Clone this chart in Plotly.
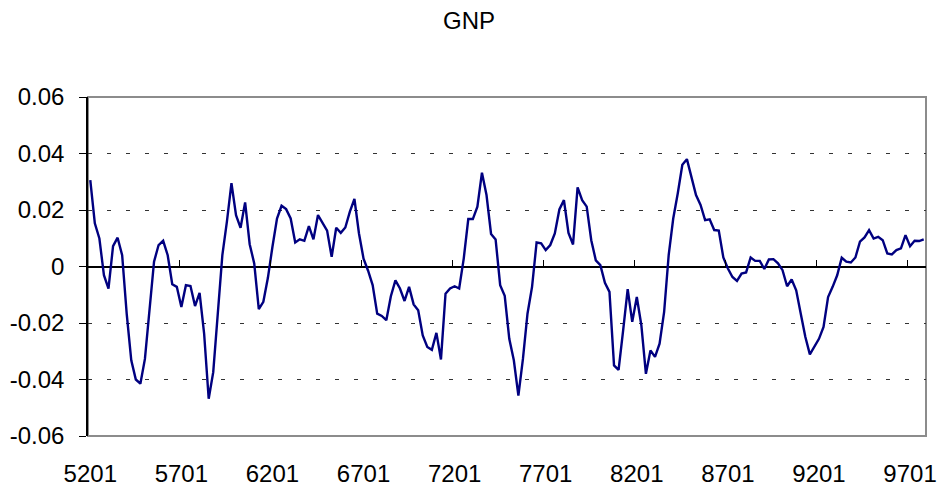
import plotly.graph_objects as go

title = "GNP"
tick_labels = ["5201", "5701", "6201", "6701", "7201", "7701", "8201", "8701", "9201", "9701"]
y_tick_vals = [0.06, 0.04, 0.02, 0, -0.02, -0.04, -0.06]
y_tick_text = ["0.06", "0.04", "0.02", "0", "-0.02", "-0.04", "-0.06"]

# quarterly values 1952Q1 .. 1997Q4
gnp = [
    0.0306, 0.0153, 0.0099, -0.0031, -0.0078, 0.0072, 0.0102, 0.0040, -0.0168, -0.0332,
    -0.0400, -0.0415, -0.0327, -0.0155, 0.0017, 0.0076, 0.0091, 0.0040, -0.0063, -0.0072,
    -0.0143, -0.0066, -0.0069, -0.0140, -0.0093, -0.0238, -0.0468, -0.0374, -0.0160, 0.0040,
    0.0159, 0.0295, 0.0182, 0.0137, 0.0227, 0.0079, 0.0011, -0.0151, -0.0125, -0.0040,
    0.0070, 0.0170, 0.0215, 0.0203, 0.0170, 0.0085, 0.0096, 0.0091, 0.0143, 0.0096,
    0.0182, 0.0153, 0.0127, 0.0034, 0.0137, 0.0119, 0.0138, 0.0194, 0.0239, 0.0117,
    0.0028, -0.0015, -0.0066, -0.0167, -0.0175, -0.0190, -0.0105, -0.0049, -0.0078, -0.0122,
    -0.0072, -0.0134, -0.0155, -0.0244, -0.0285, -0.0295, -0.0235, -0.0329, -0.0096, -0.0078,
    -0.0070, -0.0078, 0.0028, 0.0168, 0.0168, 0.0212, 0.0332, 0.0253, 0.0115, 0.0096,
    -0.0066, -0.0104, -0.0256, -0.0332, -0.0457, -0.0327, -0.0167, -0.0072, 0.0085, 0.0082,
    0.0058, 0.0076, 0.0117, 0.0202, 0.0235, 0.0119, 0.0078, 0.0280, 0.0235, 0.0212,
    0.0093, 0.0022, 0.0005, -0.0058, -0.0090, -0.0350, -0.0366, -0.0226, -0.0080, -0.0196,
    -0.0108, -0.0208, -0.0380, -0.0297, -0.0320, -0.0273, -0.0161, 0.0040, 0.0170, 0.0259,
    0.0360, 0.0380, 0.0318, 0.0253, 0.0218, 0.0164, 0.0167, 0.0129, 0.0127, 0.0032,
    -0.0007, -0.0037, -0.0051, -0.0025, -0.0021, 0.0032, 0.0020, 0.0020, -0.0009, 0.0025,
    0.0026, 0.0011, -0.0013, -0.0070, -0.0046, -0.0084, -0.0167, -0.0249, -0.0311, -0.0285,
    -0.0256, -0.0214, -0.0108, -0.0072, -0.0031, 0.0031, 0.0017, 0.0014, 0.0032, 0.0088,
    0.0103, 0.0129, 0.0099, 0.0105, 0.0093, 0.0046, 0.0043, 0.0058, 0.0064, 0.0111,
    0.0072, 0.0091, 0.0090, 0.0096,
]

n = len(gnp)
idx = list(range(n))
label_pos = [i for i in idx if i % 20 == 0]
boundary_pos = [i - 0.5 for i in idx if i % 20 == 0 and i > 0]

FONT = "Liberation Sans, Arial, sans-serif"
FS = 24

fig = go.Figure()
fig.add_trace(go.Scatter(
    x=idx, y=gnp, mode="lines",
    line=dict(color="#000080", width=2.4),
    hoverinfo="skip", showlegend=False,
))
# helper trace so the category tick axis at y=0 is rendered
fig.add_trace(go.Scatter(x=[None], y=[None], xaxis="x2", yaxis="y",
                         showlegend=False, hoverinfo="skip"))

xr = [-0.5, n - 0.5]
fig.update_layout(
    width=938, height=489,
    margin=dict(l=88, r=12, t=97, b=53),
    paper_bgcolor="white", plot_bgcolor="white",
    font=dict(family=FONT, size=FS, color="black"),
    title=dict(text=title, x=0.5, xanchor="center", y=1 - 21 / 489, yanchor="middle",
               font=dict(family=FONT, size=FS, color="black")),
    xaxis=dict(
        range=xr, showgrid=False, zeroline=False, showline=False,
        tickmode="array", tickvals=label_pos, ticktext=tick_labels,
        ticks="", ticklabelstandoff=21, automargin=False,
        tickfont=dict(family=FONT, size=FS, color="black"),
    ),
    xaxis2=dict(
        range=xr, overlaying="x", anchor="free", position=0.5, side="top",
        showgrid=False, zeroline=False, showline=False, automargin=False,
        tickmode="array", tickvals=boundary_pos, ticks="outside", ticklen=7,
        tickwidth=1, tickcolor="black", showticklabels=False,
    ),
    yaxis=dict(
        range=[-0.06, 0.06], tickmode="array", tickvals=y_tick_vals, ticktext=y_tick_text,
        showgrid=True, gridcolor="#333333", gridwidth=1, griddash="4px,15px",
        zeroline=True, zerolinecolor="black", zerolinewidth=1.5,
        showline=True, linecolor="black", linewidth=1.5,
        ticks="outside", ticklen=7, tickcolor="black", tickwidth=1,
        ticklabelstandoff=10, automargin=False,
        tickfont=dict(family=FONT, size=FS, color="black"),
    ),
    shapes=[dict(type="rect", xref="paper", yref="paper", x0=0, x1=1, y0=0, y1=1,
                 line=dict(color="#8c8c8c", width=2), layer="below")],
)

fig.write_html(
    "out.html",
    config={"displayModeBar": False},
    post_script="document.body.style.margin='0';document.body.style.overflow='hidden';",
)
